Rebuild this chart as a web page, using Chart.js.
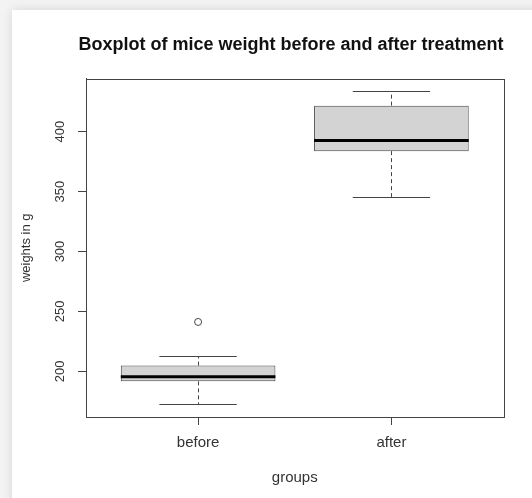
<!DOCTYPE html>
<html>
<head>
<meta charset="utf-8">
<script src="https://cdn.jsdelivr.net/npm/chart.js@4/dist/chart.umd.min.js"></script>
<style>
    html, body { margin: 0; padding: 0; }
    body { width: 532px; height: 498px; background: #f3f3f3; overflow: hidden; position: relative; }
    #card { position: absolute; left: 12px; top: 10px; width: 540px; height: 500px; background: #fff; box-shadow: 0 0 10px rgba(0, 0, 0, 0.12); }
    #wrap { position: absolute; left: 0; top: 0; width: 532px; height: 498px; }
</style>
</head>
<body>
<div id="card"></div>
<div id="wrap"><canvas id="chart-boxplot"></canvas></div>
<script>
// datos (peso de ratones en g)
var groups = ['before', 'after'];
var whiskerLow = [172.3, 345.6];
var q1 = [191.6, 383.8];
var median = [195.5, 392.7];
var q3 = [204.8, 421.8];
var whiskerHigh = [212.6, 433.9];
var outlierGroup = ['before'];
var outlierWeight = [241.2];
var yTicks = [200, 250, 300, 350, 400];

var fontFamily = '"Liberation Sans", Arial, sans-serif';
var lineColor = '#444';

// rango del eje y como en R (4% extra a cada lado)
var lo = Math.min.apply(null, whiskerLow.concat(outlierWeight));
var hi = Math.max.apply(null, whiskerHigh.concat(outlierWeight));
var yMin = lo - 0.04 * (hi - lo);
var yMax = hi + 0.04 * (hi - lo);

// mediana, bigotes y marco del grafico
var boxExtras = {
    id: 'boxExtras',
    afterDatasetsDraw: function (chart) {
        var ctx = chart.ctx;
        var a = chart.chartArea;
        var x = chart.scales.x;
        var y = chart.scales.y;

        ctx.save();
        ctx.strokeStyle = lineColor;
        ctx.lineWidth = 1;

        groups.forEach(function (g, i) {
            var cx = Math.round(x.getPixelForValue(i + 1)) + 0.5;
            var capL = x.getPixelForValue(i + 1 - 0.2);
            var capR = x.getPixelForValue(i + 1 + 0.2);
            var boxL = x.getPixelForValue(i + 1 - 0.4);
            var boxR = x.getPixelForValue(i + 1 + 0.4);

            //bigotes punteados
            ctx.setLineDash([4, 3]);
            ctx.beginPath();
            ctx.moveTo(cx, y.getPixelForValue(q3[i]));
            ctx.lineTo(cx, y.getPixelForValue(whiskerHigh[i]));
            ctx.moveTo(cx, y.getPixelForValue(q1[i]));
            ctx.lineTo(cx, y.getPixelForValue(whiskerLow[i]));
            ctx.stroke();

            //topes
            ctx.setLineDash([]);
            ctx.beginPath();
            var yh = Math.round(y.getPixelForValue(whiskerHigh[i])) + 0.5;
            var yl = Math.round(y.getPixelForValue(whiskerLow[i])) + 0.5;
            ctx.moveTo(capL, yh);
            ctx.lineTo(capR, yh);
            ctx.moveTo(capL, yl);
            ctx.lineTo(capR, yl);
            ctx.stroke();

            //mediana
            ctx.save();
            ctx.strokeStyle = '#000';
            ctx.lineWidth = 3;
            ctx.beginPath();
            ctx.moveTo(boxL, y.getPixelForValue(median[i]));
            ctx.lineTo(boxR, y.getPixelForValue(median[i]));
            ctx.stroke();
            ctx.restore();
        });

        //marco completo
        ctx.strokeRect(Math.round(a.left) + 0.5, Math.round(a.top) + 0.5,
            Math.round(a.right - a.left), Math.round(a.bottom - a.top));
        ctx.restore();
    }
};

var ctx_boxplot = document.getElementById('chart-boxplot');

var chartBoxplot = new Chart(ctx_boxplot, {
    type: 'bar',
    data: {
        datasets: [
            {
                type: 'bar',
                data: groups.map(function (g, i) {
                    return {x: i + 1, y: [q1[i], q3[i]]};
                }),
                backgroundColor: '#d3d3d3',
                borderColor: lineColor,
                borderWidth: 1,
                borderSkipped: false,
                barPercentage: 0.8,
                categoryPercentage: 1
            },
            {
                type: 'scatter',
                data: outlierGroup.map(function (g, i) {
                    return {x: groups.indexOf(g) + 1, y: outlierWeight[i]};
                }),
                pointStyle: 'circle',
                pointRadius: 3.5,
                backgroundColor: 'rgba(0,0,0,0)',
                borderColor: lineColor,
                borderWidth: 1
            }
        ]
    },
    options: {
        responsive: true,
        maintainAspectRatio: false,
        animation: false,
        layout: {
            padding: {left: 14, right: 28.5, top: 10, bottom: 11}
        },
        plugins: {
            legend: {display: false},
            tooltip: {enabled: false},
            title: {
                display: true,
                text: 'Boxplot of mice weight before and after treatment',
                align: 'end',
                color: '#111',
                font: {family: fontFamily, size: 18, weight: 'bold'},
                padding: {top: 24, bottom: 23}
            }
        },
        scales: {
            x: {
                type: 'linear',
                min: 0.42,
                max: 2.58,
                offset: false,
                afterBuildTicks: function (scale) {
                    scale.ticks = groups.map(function (g, i) {
                        return {value: i + 1};
                    });
                },
                afterFit: function (scale) {
                    scale.height = 70;
                },
                ticks: {
                    callback: function (value) {
                        return groups[value - 1];
                    },
                    color: '#333',
                    padding: 8.5,
                    maxRotation: 0,
                    font: {family: fontFamily, size: 15}
                },
                grid: {offset: false, drawOnChartArea: false, drawTicks: true, tickLength: 8, color: lineColor},
                border: {display: true, color: lineColor},
                title: {
                    display: true,
                    text: 'groups',
                    color: '#333',
                    font: {family: fontFamily, size: 15},
                    padding: 0
                }
            },
            y: {
                type: 'linear',
                min: yMin,
                max: yMax,
                afterBuildTicks: function (scale) {
                    scale.ticks = yTicks.map(function (v) {
                        return {value: v};
                    });
                },
                afterFit: function (scale) {
                    scale.width = 72;
                },
                ticks: {
                    color: '#333',
                    padding: 7,
                    minRotation: 90,
                    maxRotation: 90,
                    crossAlign: 'center',
                    font: {family: fontFamily, size: 13}
                },
                grid: {drawOnChartArea: false, drawTicks: true, tickLength: 8, color: lineColor},
                border: {display: true, color: lineColor},
                title: {
                    display: true,
                    text: 'weights in g',
                    color: '#333',
                    font: {family: fontFamily, size: 13},
                    padding: {top: 5, bottom: 0}
                }
            }
        }
    },
    plugins: [boxExtras]
});
</script>
</body>
</html>
